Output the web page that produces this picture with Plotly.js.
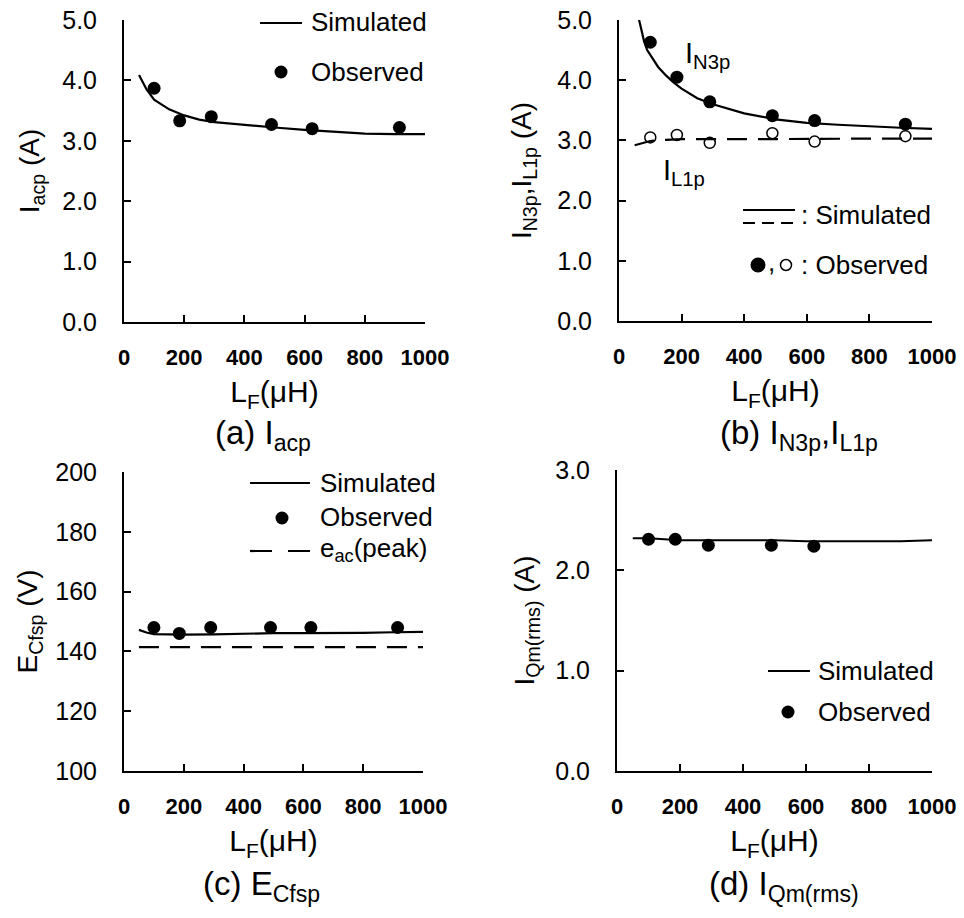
<!DOCTYPE html>
<html>
<head>
<meta charset="utf-8">
<script src="https://cdn.plot.ly/plotly-3.0.1.min.js"></script>
<style>html,body{margin:0;padding:0;background:#fff;}</style>
</head>
<body>
<div id="chart" style="width:964px;height:918px;"></div>
<script>
// ---------- DATA ----------
const L_obs = [100, 185, 290, 490, 625, 915];

// (a) I_acp
const Iacp_obs = [3.87, 3.33, 3.40, 3.27, 3.20, 3.22];
const L_sim_a = [50, 75, 100, 150, 200, 250, 300, 400, 500, 600, 700, 800, 900, 1000];
const Iacp_sim = [4.09, 3.85, 3.68, 3.52, 3.42, 3.35, 3.31, 3.26, 3.22, 3.18, 3.15, 3.12, 3.11, 3.11];

// (b) I_N3p, I_L1p
const IN3p_obs = [4.63, 4.05, 3.64, 3.41, 3.33, 3.27];
const IL1p_obs = [3.05, 3.09, 2.96, 3.12, 2.98, 3.07];
const L_sim_n3 = [62, 70, 80, 90, 100, 125, 150, 175, 200, 250, 300, 400, 500, 600, 700, 800, 900, 1000];
const IN3p_sim = [5.05, 4.85, 4.65, 4.50, 4.42, 4.22, 4.08, 3.96, 3.86, 3.70, 3.60, 3.45, 3.35, 3.29, 3.26, 3.23, 3.21, 3.19];
const L_sim_l1 = [50, 75, 100, 150, 200, 400, 600, 800, 1000];
const IL1p_sim = [2.92, 2.96, 2.99, 3.01, 3.02, 3.02, 3.03, 3.03, 3.03];

// (c) E_Cfsp
const ECfsp_obs = [148, 146, 148, 148, 148, 148];
const L_sim_c = [50, 75, 100, 150, 200, 300, 400, 500, 600, 700, 800, 900, 1000];
const ECfsp_sim = [147.2, 146.3, 145.8, 145.6, 145.6, 145.7, 146.0, 146.1, 146.1, 146.1, 146.2, 146.4, 146.5];
const L_eac = [50, 1000];
const eac_peak = [141.4, 141.4];

// (d) I_Qm(rms)
const L_obs_d = [100, 185, 290, 490, 625];
const IQm_obs = [2.31, 2.31, 2.25, 2.25, 2.24];
const L_sim_d = [50, 100, 150, 200, 300, 400, 500, 600, 700, 800, 900, 1000];
const IQm_sim = [2.32, 2.32, 2.31, 2.30, 2.30, 2.30, 2.30, 2.29, 2.29, 2.29, 2.29, 2.30];

const xTicks = [0, 200, 400, 600, 800, 1000];

// ---------- LAYOUT HELPERS ----------
const W = 964, H = 918;
const px = v => v / W;
const py = v => 1 - v / H;
const FONT = 'Liberation Sans, Arial, sans-serif';

const lineStyle = {color: '#000', width: 2.2};
const dotMarker = {symbol: 'circle', size: 13, color: '#000'};

const traces = [
  // (a)
  {x: L_sim_a, y: Iacp_sim, mode: 'lines', line: lineStyle, xaxis: 'x', yaxis: 'y', name: 'Simulated'},
  {x: L_obs, y: Iacp_obs, mode: 'markers', marker: dotMarker, xaxis: 'x', yaxis: 'y', name: 'Observed'},
  // (b)
  {x: L_sim_n3, y: IN3p_sim, mode: 'lines', line: lineStyle, xaxis: 'x2', yaxis: 'y2', name: 'I_N3p Simulated'},
  {x: L_sim_l1, y: IL1p_sim, mode: 'lines', line: {color: '#000', width: 2.2, dash: '20px,11px'}, xaxis: 'x2', yaxis: 'y2', name: 'I_L1p Simulated'},
  {x: L_obs, y: IN3p_obs, mode: 'markers', marker: dotMarker, xaxis: 'x2', yaxis: 'y2', name: 'I_N3p Observed'},
  {x: L_obs, y: IL1p_obs, mode: 'markers', marker: {symbol: 'circle-open', size: 11, color: '#000', line: {width: 1.5}}, xaxis: 'x2', yaxis: 'y2', name: 'I_L1p Observed'},
  // (c)
  {x: L_sim_c, y: ECfsp_sim, mode: 'lines', line: lineStyle, xaxis: 'x3', yaxis: 'y3', name: 'Simulated'},
  {x: L_eac, y: eac_peak, mode: 'lines', line: {color: '#000', width: 2.2, dash: '20px,11px'}, xaxis: 'x3', yaxis: 'y3', name: 'e_ac(peak)'},
  {x: L_obs, y: ECfsp_obs, mode: 'markers', marker: dotMarker, xaxis: 'x3', yaxis: 'y3', name: 'Observed'},
  // (d)
  {x: L_sim_d, y: IQm_sim, mode: 'lines', line: lineStyle, xaxis: 'x4', yaxis: 'y4', name: 'Simulated'},
  {x: L_obs_d, y: IQm_obs, mode: 'markers', marker: dotMarker, xaxis: 'x4', yaxis: 'y4', name: 'Observed'}
];

function xAxis(l, r, anchor) {
  return {
    domain: [px(l), px(r)], range: [0, 1000], anchor: anchor,
    showline: true, linewidth: 2, linecolor: '#000', mirror: false,
    ticks: 'inside', ticklen: 7, tickwidth: 2, tickcolor: '#000',
    tickvals: xTicks, ticktext: xTicks.map(String),
    tickfont: {family: FONT, size: 22, color: '#000', weight: 'bold'},
    ticklabelstandoff: 15,
    showgrid: false, zeroline: false, fixedrange: true,
    title: {text: 'L<sub>F</sub>(\u03bcH)', font: {family: FONT, size: 30, color: '#000'}, standoff: 12}
  };
}
function yAxis(t, b, anchor, range, dtick, fmt, title, standoff) {
  return {
    domain: [py(b), py(t)], range: range, anchor: anchor,
    showline: true, linewidth: 2, linecolor: '#000', mirror: false,
    ticks: 'inside', ticklen: 7, tickwidth: 2, tickcolor: '#000',
    dtick: dtick, tick0: range[0], tickformat: fmt,
    tickfont: {family: FONT, size: 25, color: '#000'},
    ticklabelstandoff: 20,
    showgrid: false, zeroline: false, fixedrange: true,
    title: {text: title, font: {family: FONT, size: 28, color: '#000'}, standoff: standoff}
  };
}

function txt(text, x, y, size, xanchor) {
  return {text: text, xref: 'paper', yref: 'paper', x: px(x), y: py(y),
    xanchor: xanchor || 'left', yanchor: 'middle', showarrow: false,
    font: {family: FONT, size: size || 26, color: '#000'}};
}
function hline(x0, x1, y, dash) {
  return {type: 'line', xref: 'paper', yref: 'paper', x0: px(x0), x1: px(x1), y0: py(y), y1: py(y),
    line: {color: '#000', width: 2.2, dash: dash || 'solid'}};
}
function dot(cx, cy, r, open) {
  return {type: 'circle', xref: 'paper', yref: 'paper', x0: px(cx - r), x1: px(cx + r), y0: py(cy + r), y1: py(cy - r),
    fillcolor: open ? '#fff' : '#000', line: {color: '#000', width: open ? 1.5 : 0}};
}

const annotations = [
  // legend (a)
  txt('Simulated', 309, 22), txt('Observed', 309, 72),
  // (b) labels and legend
  txt('I<sub>N3p</sub>', 683, 55, 29), txt('I<sub>L1p</sub>', 661, 172, 29),
  txt(': Simulated', 799, 215), txt(',', 766, 262), txt(': Observed', 799, 265),
  // legend (c)
  txt('Simulated', 318, 483), txt('Observed', 318, 517), txt('e<sub>ac</sub>(peak)', 318, 549),
  // legend (d)
  txt('Simulated', 816, 671), txt('Observed', 816, 712),
  // captions
  txt('(a) I<sub>acp</sub>', 263, 435, 33, 'center'),
  txt('(b) I<sub>N3p</sub>,I<sub>L1p</sub>', 799, 435, 33, 'center'),
  txt('(c) E<sub>Cfsp</sub>', 261, 886, 33, 'center'),
  txt('(d) I<sub>Qm(rms)</sub>', 784, 886, 33, 'center')
];

const shapes = [
  hline(260, 302, 23), dot(281, 72, 6.5),
  hline(743, 795, 210), hline(743, 795, 223, '12px,7px'),
  dot(758, 265, 7.5), dot(786, 265, 5.5, true),
  hline(250, 310, 483), dot(282, 518, 6.5), hline(250, 310, 551, '22px,16px'),
  hline(768, 810, 671), dot(788, 712, 6.5)
];

const layout = {
  width: W, height: H,
  margin: {l: 0, r: 0, t: 0, b: 0},
  paper_bgcolor: '#fff', plot_bgcolor: 'rgba(0,0,0,0)',
  showlegend: false,
  font: {family: FONT, color: '#000'},
  xaxis: xAxis(124, 425, 'y'),
  yaxis: yAxis(20, 322, 'x', [0, 5], 1, '.1f', 'I<sub>acp</sub> (A)', 14),
  xaxis2: xAxis(619, 932, 'y2'),
  yaxis2: yAxis(20, 321, 'x2', [0, 5], 1, '.1f', 'I<sub>N3p</sub>,I<sub>L1p</sub> (A)', 17),
  xaxis3: xAxis(124, 423, 'y3'),
  yaxis3: yAxis(472, 771, 'x3', [100, 200], 20, 'd', 'E<sub>Cfsp</sub> (V)', 9),
  xaxis4: xAxis(617, 932, 'y4'),
  yaxis4: yAxis(470, 771, 'x4', [0, 3], 1, '.1f', 'I<sub>Qm(rms)</sub> (A)', 12),
  annotations: annotations,
  shapes: shapes
};

Plotly.newPlot('chart', traces, layout, {staticPlot: true, displayModeBar: false});
</script>
</body>
</html>
